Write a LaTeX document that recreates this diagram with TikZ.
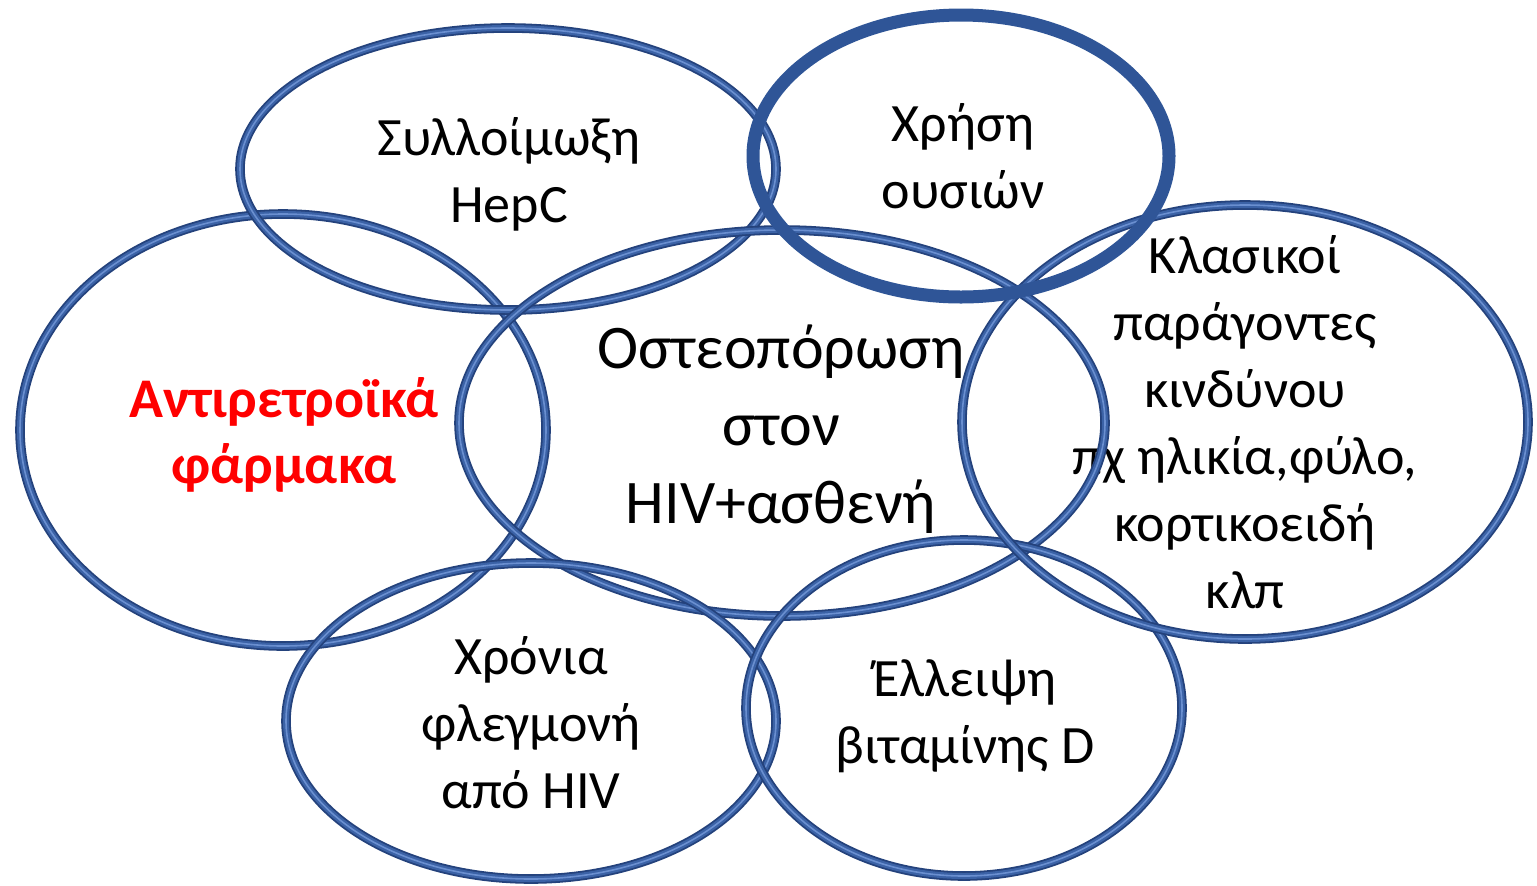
\documentclass[tikz,border=0pt]{standalone}
\usepackage{fontspec}
\setmainfont{Carlito}
\definecolor{ringdark}{HTML}{24427C}
\definecolor{ringmid}{HTML}{3B62A6}
\definecolor{ringlight}{HTML}{6A8FD0}
\definecolor{ringflat}{HTML}{2F5597}
\definecolor{txtred}{HTML}{FF0000}
\newcommand\drawring[3]{%
  \draw[ringouter] (#1) ellipse [x radius=#2, y radius=#3];
  \draw[ringinner] (#1) ellipse [x radius=#2, y radius=#3];
  \draw[ringshine] (#1) ellipse [x radius=#2, y radius=#3];}
\begin{document}
\begin{tikzpicture}[x=0.5pt,y=-0.5pt,
  ringouter/.style={draw=ringdark,line width=4.8pt},
  ringinner/.style={draw=ringmid,line width=3pt},
  ringshine/.style={draw=ringlight,line width=0.8pt},
  ringbold/.style={draw=ringflat,line width=6.5pt},
  lbl/.style={align=center,inner sep=0pt,anchor=base,font=\fontsize{27pt}{33.5pt}\selectfont},
  biglbl/.style={align=center,inner sep=0pt,anchor=base,font=\fontsize{31pt}{38.75pt}\selectfont},
  redlbl/.style={align=center,inner sep=0pt,anchor=base,text=txtred,font=\fontsize{28pt}{33pt}\selectfont\bfseries}]
\path[use as bounding box,fill=white] (0,0) rectangle (1537,885);
% centres
\coordinate (e1) at (508,169);
\coordinate (e2) at (961,156);
\coordinate (e3) at (283,430);
\coordinate (e4) at (782,423);
\coordinate (e5) at (1245,422);
\coordinate (e6) at (531,721);
\coordinate (e7) at (964,708);
% labels (anchored at the baseline of the last line)
\node[lbl] (t1) at (509,222) {Συλλοίμωξη\\HepC};
\node[lbl] (t2) at (963,208) {Χρήση\\ουσιών};
\node[redlbl] (t3) at (284,483) {Αντιρετροϊκά\\φάρμακα};
\node[biglbl] (t4) at (781,523) {Οστεοπόρωση\\στον\\HIV+ασθενή};
\node[lbl] (t5) at (1245,608) {Κλασικοί\\παράγοντες\\κινδύνου\\πχ ηλικία,φύλο,\\κορτικοειδή\\κλπ};
\node[lbl] (t6) at (531,808) {Χρόνια\\φλεγμονή\\από HIV};
\node[lbl] (t7) at (965,763) {Έλλειψη\\βιταμίνης D};
% rings
\drawring{e3}{131.5pt}{108pt}
\drawring{e1}{134pt}{70.5pt}
\drawring{e4}{161.5pt}{96.5pt}
\drawring{e6}{122.5pt}{79pt}
\drawring{e7}{109pt}{84pt}
\drawring{e5}{141.5pt}{108.5pt}
\draw[ringbold] (e2) ellipse [x radius=104pt, y radius=70.5pt];
\end{tikzpicture}
\end{document}
